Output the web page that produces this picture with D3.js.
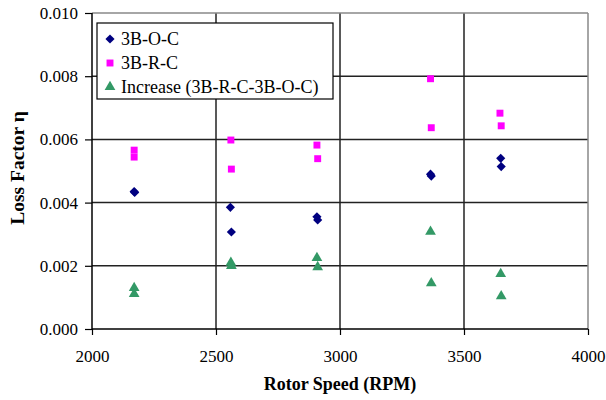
<!DOCTYPE html>
<meta charset="utf-8">
<style>
  body { margin: 0; background: #fff; }
  svg text { font-family: "Liberation Serif", "Times New Roman", serif; fill: #000; }
  .axis path { display: none; }
  .axis line { stroke: #000; stroke-width: 1.2px; }
  .axis text { font-size: 17px; }
  .grid line { stroke: #222; stroke-width: 1.5px; }
</style>
<body></body>
<script src="https://d3js.org/d3.v7.min.js"></script>
<script>
  // rotor speed (RPM) of each measurement
  var rpmOC = [2170, 2172, 2558, 2562, 2907, 2910, 3365, 3368, 3648, 3650];
  var lossOC = [0.00435, 0.00432, 0.00385, 0.00307, 0.00355, 0.00345, 0.00490, 0.00484, 0.00540, 0.00514];

  var rpmRC = [2170, 2170, 2560, 2562, 2907, 2910, 3365, 3368, 3645, 3650];
  var lossRC = [0.00566, 0.00544, 0.00598, 0.00506, 0.00582, 0.00539, 0.00792, 0.00637, 0.00683, 0.00643];

  var rpmInc = [2170, 2170, 2560, 2562, 2907, 2910, 3365, 3368, 3648, 3650];
  var lossInc = [0.00130, 0.00111, 0.00210, 0.00200, 0.00225, 0.00196, 0.00308, 0.00145, 0.00174, 0.00104];

  var xTicks = [2000, 2500, 3000, 3500, 4000];
  var yTicks = [0, 0.002, 0.004, 0.006, 0.008, 0.010];

  var seriesNames = ["3B-O-C", "3B-R-C", "Increase (3B-R-C-3B-O-C)"];

  var W = 606, H = 400;
  var margin = { top: 13, right: 18, bottom: 71, left: 92 };
  var width = W - margin.left - margin.right,
    height = H - margin.top - margin.bottom;

  var x = d3.scaleLinear().domain([2000, 4000]).range([0, width]);
  var y = d3.scaleLinear().domain([0, 0.010]).range([height, 0]);

  var svg = d3.select("body").append("svg")
    .attr("width", W)
    .attr("height", H);

  var g = svg.append("g")
    .attr("transform", "translate(" + margin.left + "," + margin.top + ")");

  // grid
  g.append("g").attr("class", "grid")
    .selectAll("line.h").data(yTicks.slice(1, -1)).enter().append("line")
    .attr("x1", 0).attr("x2", width)
    .attr("y1", function(d) { return y(d); })
    .attr("y2", function(d) { return y(d); });
  g.append("g").attr("class", "grid")
    .selectAll("line.v").data(xTicks.slice(1, -1)).enter().append("line")
    .attr("y1", 0).attr("y2", height)
    .attr("x1", function(d) { return x(d); })
    .attr("x2", function(d) { return x(d); });

  // frame: top/right grey, left/bottom black
  g.append("line").attr("x1", 0).attr("x2", width).attr("y1", 0).attr("y2", 0)
    .attr("stroke", "#888").attr("stroke-width", 1.5);
  g.append("line").attr("x1", width).attr("x2", width).attr("y1", 0).attr("y2", height)
    .attr("stroke", "#888").attr("stroke-width", 1.5);
  g.append("line").attr("x1", 0).attr("x2", 0).attr("y1", 0).attr("y2", height)
    .attr("stroke", "#000").attr("stroke-width", 1.5);
  g.append("line").attr("x1", 0).attr("x2", width).attr("y1", height).attr("y2", height)
    .attr("stroke", "#000").attr("stroke-width", 1.5);

  var xAxis = d3.axisBottom(x).tickValues(xTicks).tickSize(6).tickPadding(15)
    .tickFormat(d3.format("d"));
  var yAxis = d3.axisLeft(y).tickValues(yTicks).tickSize(7).tickPadding(7)
    .tickFormat(d3.format(".3f"));

  g.append("g").attr("class", "axis")
    .attr("transform", "translate(0," + height + ")")
    .call(xAxis);
  g.append("g").attr("class", "axis")
    .call(yAxis);

  // axis titles
  svg.append("text")
    .attr("x", margin.left + width / 2)
    .attr("y", 390)
    .attr("text-anchor", "middle")
    .style("font-size", "18px")
    .style("font-weight", "bold")
    .text("Rotor Speed (RPM)");

  svg.append("text")
    .attr("transform", "translate(24,168) rotate(-90)")
    .attr("text-anchor", "middle")
    .style("font-size", "19.5px")
    .style("font-weight", "bold")
    .text("Loss Factor \u03b7");

  var diamond = d3.symbol().type(d3.symbolSquare).size(42);
  var square = d3.symbol().type(d3.symbolSquare).size(48);
  var triangle = d3.symbol().type(d3.symbolTriangle).size(50);

  var colors = ["#000080", "#ff00ff", "#339966"];

  function plot(xs, ys, sym, color, rot) {
    g.append("g").selectAll("path")
      .data(xs.map(function(v, i) { return [v, ys[i]]; }))
      .enter().append("path")
      .attr("d", sym)
      .attr("fill", color)
      .attr("transform", function(d) {
        return "translate(" + x(d[0]) + "," + y(d[1]) + ")" + (rot ? " rotate(45)" : "");
      });
  }

  plot(rpmOC, lossOC, diamond, colors[0], true);
  plot(rpmRC, lossRC, square, colors[1], false);
  plot(rpmInc, lossInc, triangle, colors[2], false);

  // legend
  var leg = svg.append("g").attr("transform", "translate(97,23)");
  leg.append("rect")
    .attr("width", 236).attr("height", 76)
    .attr("fill", "#fff").attr("stroke", "#000").attr("stroke-width", 1.2);

  var syms = [diamond, square, triangle];
  seriesNames.forEach(function(name, i) {
    var ly = 16 + i * 24;
    leg.append("path")
      .attr("d", syms[i])
      .attr("fill", colors[i])
      .attr("transform", "translate(13," + ly + ")" + (i === 0 ? " rotate(45)" : ""));
    leg.append("text")
      .attr("x", 24).attr("y", ly + 6)
      .style("font-size", "18px")
      .text(name);
  });
</script>
